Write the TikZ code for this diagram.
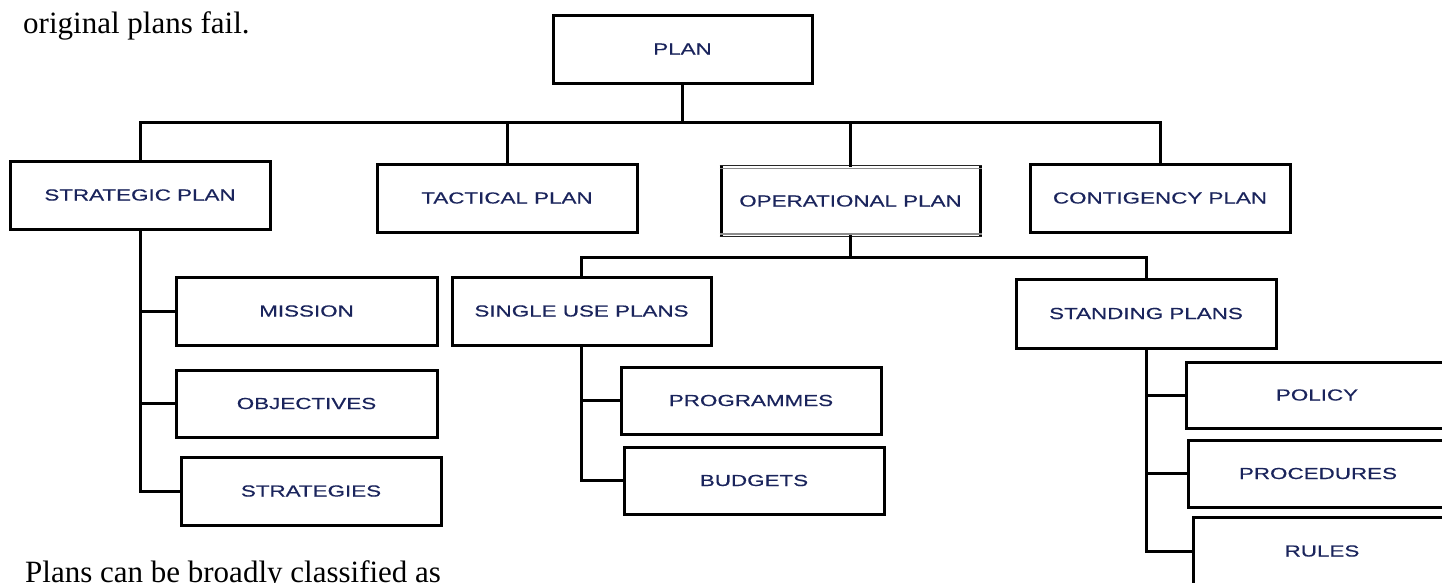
\documentclass[tikz,border=0pt]{standalone}
\usepackage{fontspec}
\setmainfont{Liberation Serif}
\newfontfamily\boxfont[FakeStretch=1.4,FakeBold=0.4]{Liberation Sans}
\definecolor{lbl}{RGB}{26,36,92}
\begin{document}
\begin{tikzpicture}[x=1pt,y=-1pt,
  box/.style={draw=black, line width=3pt, minimum width=260pt, minimum height=68pt,
    inner sep=0pt, font=\boxfont\fontsize{16}{18}\selectfont, text=lbl},
  conn/.style={line width=3pt, line cap=rect},
  body/.style={anchor=base west, inner sep=0pt, font=\fontsize{31}{36}\selectfont}]
\useasboundingbox (0,0) rectangle (1442,582);
\clip (0,0) rectangle (1442,582);
\fill[white] (0,0) rectangle (1442,582);
% body text
\node[body] (t1) at (23,33) {original plans fail.};
\node[body] (t2) at (25,582) {Plans can be broadly classified as};
% boxes
\node[box, minimum width=259pt] (plan) at (682.5,49) {PLAN};
\node[box] (strat) at (140,195) {STRATEGIC PLAN};
\node[box] (tact) at (507,198) {TACTICAL PLAN};
\node[box, draw=none, minimum width=259pt] (oper) at (850.5,201) {OPERATIONAL PLAN};
\node[box] (cont) at (1160,198) {CONTIGENCY PLAN};
\node[box, minimum width=259pt] (single) at (581.5,311) {SINGLE USE PLANS};
\node[box, minimum height=69pt] (stand) at (1146,313.5) {STANDING PLANS};
\node[box, minimum width=261pt] (mission) at (306.5,311) {MISSION};
\node[box, minimum width=261pt, minimum height=67pt] (obj) at (306.5,403.5) {OBJECTIVES};
\node[box] (strg) at (311,491) {STRATEGIES};
\node[box, minimum height=67pt] (prog) at (751,400.5) {PROGRAMMES};
\node[box, minimum height=67pt] (budg) at (754,480.5) {BUDGETS};
\node[box, minimum width=262pt, minimum height=66pt] (policy) at (1317,395) {POLICY};
\node[box, minimum width=260pt, minimum height=67pt] (proc) at (1318,473.5) {PROCEDURES};
\node[box, minimum width=258pt] (rules) at (1322,551) {RULES};
% operational box: thick sides, double thin top and bottom
\draw[line width=3pt] ([xshift=1.5pt]oper.north west) -- ([xshift=1.5pt]oper.south west);
\draw[line width=3pt] ([xshift=-1.5pt]oper.north east) -- ([xshift=-1.5pt]oper.south east);
\draw[line width=1.3pt, black!85] ([yshift=-0.3pt]oper.north west) -- ([yshift=-0.3pt]oper.north east);
\draw[line width=1.2pt, black!45] ([yshift=-2.6pt]oper.north west) -- ([yshift=-2.6pt]oper.north east);
\draw[line width=1.3pt, black!85] ([yshift=0.3pt]oper.south west) -- ([yshift=0.3pt]oper.south east);
\draw[line width=1.2pt, black!45] ([yshift=2.6pt]oper.south west) -- ([yshift=2.6pt]oper.south east);
% connectors
\coordinate (bus) at (682.5,122);
\coordinate (opbus) at (850.5,257);
\draw[conn] (plan.south) -- (bus);
\draw[conn] (bus) -| (strat.north);
\draw[conn] (bus) -| (tact.north);
\draw[conn] (bus) -| (oper.north);
\draw[conn] (bus) -| (cont.north);
\draw[conn] (oper.south) -- (opbus);
\draw[conn] (opbus) -| (single.north);
\draw[conn] (opbus) -| (stand.north);
\draw[conn] (strat.south) |- (strg.west);
\draw[conn] (strat.south |- mission.west) -- (mission.west);
\draw[conn] (strat.south |- obj.west) -- (obj.west);
\draw[conn] (single.south) |- (budg.west);
\draw[conn] (single.south |- prog.west) -- (prog.west);
\draw[conn] (stand.south) |- (rules.west);
\draw[conn] (stand.south |- policy.west) -- (policy.west);
\draw[conn] (stand.south |- proc.west) -- (proc.west);
\end{tikzpicture}
\end{document}
